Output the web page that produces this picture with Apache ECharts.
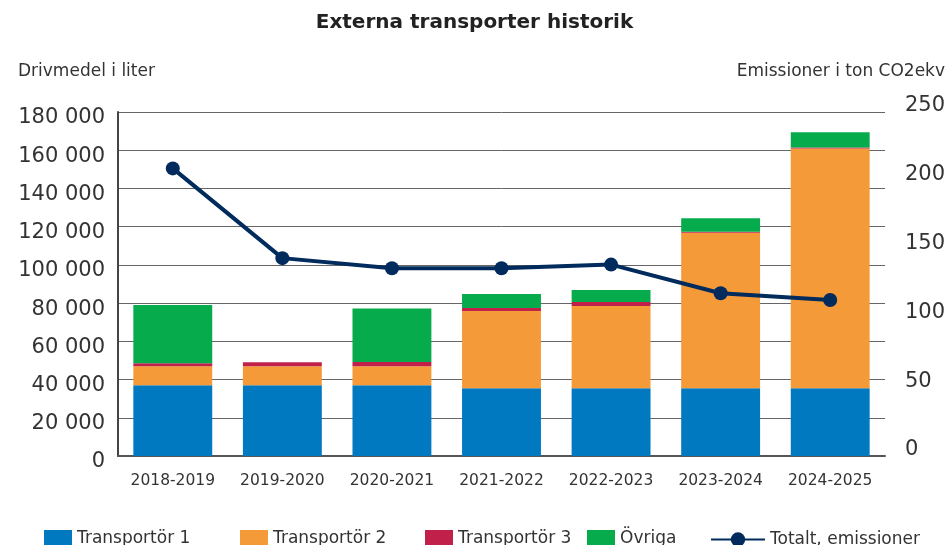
<!DOCTYPE html>
<html>
<head>
<meta charset="utf-8">
<script src="https://cdn.jsdelivr.net/npm/echarts@6/dist/echarts.min.js"></script>
<style>
  html, body { margin: 0; padding: 0; background: #fff; }
  #chart { width: 949px; height: 545px; }
</style>
</head>
<body>
<div id="chart"></div>
<script>
const years = ['2018-2019', '2019-2020', '2020-2021', '2021-2022', '2022-2023', '2023-2024', '2024-2025']
const transportor1 = [37000, 37000, 37000, 35500, 35500, 35500, 35500]
const transportor2 = [10000, 10000, 10000, 40400, 43000, 81300, 125400]
const transportor3 = [1500, 2000, 2200, 1500, 2100, 600, 500]
const ovriga = [30500, 0, 28000, 7400, 6300, 7000, 8000]
const emissioner = [209, 143.8, 136.5, 136.5, 139.1, 118.3, 113.4]

const font = 'DejaVu Sans'
const textColor = '#333'

const fmt = v => String(v).replace(/\B(?=(\d{3})+(?!\d))/g, ' ')

const chart = echarts.init(document.getElementById('chart'))

const barSeries = (name, data, color) => ({
  name: name,
  type: 'bar',
  stack: 'total',
  barWidth: '72%',
  data: data,
  itemStyle: { color: color },
  emphasis: { disabled: true }
})

// one legend per item so each can sit where the reference puts it
const legendItem = (name, left, icon, width) => ({
  bottom: -8,
  left: left,
  itemWidth: width || 28,
  itemHeight: 18,
  textStyle: { fontFamily: font, fontSize: 17, color: textColor },
  data: [icon ? { name: name, icon: icon } : { name: name }]
})

const option = {
  animation: false,
  textStyle: { fontFamily: font },
  title: {
    text: 'Externa transporter historik',
    left: 'center',
    top: 8,
    textStyle: { fontFamily: font, fontSize: 20, fontWeight: 'bold', color: '#222' }
  },
  grid: { left: 118, right: 64, top: 112, bottom: 89 },
  legend: [
    legendItem('Transportör 1', 39, 'rect'),
    legendItem('Transportör 2', 235, 'rect'),
    legendItem('Transportör 3', 420, 'rect'),
    legendItem('Övriga', 582, 'rect'),
    legendItem('Totalt, emissioner', 705, null, 54)
  ],
  xAxis: {
    type: 'category',
    data: years,
    axisLine: { lineStyle: { color: '#555', width: 2 } },
    axisTick: { inside: true, length: 8, lineStyle: { color: '#555' } },
    axisLabel: { fontFamily: font, fontSize: 15.5, color: textColor, margin: 17, interval: 0 }
  },
  yAxis: [
    {
      type: 'value',
      min: 0,
      max: 180000,
      interval: 20000,
      name: 'Drivmedel i liter',
      nameLocation: 'end',
      nameGap: 32,
      nameTextStyle: { fontFamily: font, fontSize: 17, color: textColor, align: 'left', padding: [0, 0, 0, -100] },
      axisLine: { show: true, lineStyle: { color: '#444', width: 2 } },
      axisTick: { show: false },
      splitLine: { lineStyle: { color: '#666', width: 1 } },
      axisLabel: {
        fontFamily: font, fontSize: 21, color: textColor, margin: 13,
        verticalAlign: 'top', lineHeight: 12,
        formatter: fmt
      }
    },
    {
      type: 'value',
      min: 0,
      max: 250,
      interval: 50,
      name: 'Emissioner i ton CO2ekv',
      nameLocation: 'end',
      nameGap: 32,
      nameTextStyle: { fontFamily: font, fontSize: 17, color: textColor, align: 'right', padding: [0, -60, 0, 0] },
      axisLine: { show: false },
      axisTick: { show: false },
      splitLine: { show: false },
      axisLabel: {
        fontFamily: font, fontSize: 21, color: textColor, margin: 20,
        verticalAlign: 'bottom', lineHeight: 12
      }
    }
  ],
  series: [
    barSeries('Transportör 1', transportor1, '#0079C1'),
    barSeries('Transportör 2', transportor2, '#F59A38'),
    barSeries('Transportör 3', transportor3, '#C0204A'),
    barSeries('Övriga', ovriga, '#06AC4B'),
    {
      name: 'Totalt, emissioner',
      type: 'line',
      yAxisIndex: 1,
      data: emissioner,
      symbol: 'circle',
      symbolSize: 14,
      lineStyle: { color: '#002B5C', width: 4 },
      itemStyle: { color: '#002B5C' },
      emphasis: { disabled: true },
      z: 5
    }
  ]
}

chart.setOption(option)
</script>
</body>
</html>
